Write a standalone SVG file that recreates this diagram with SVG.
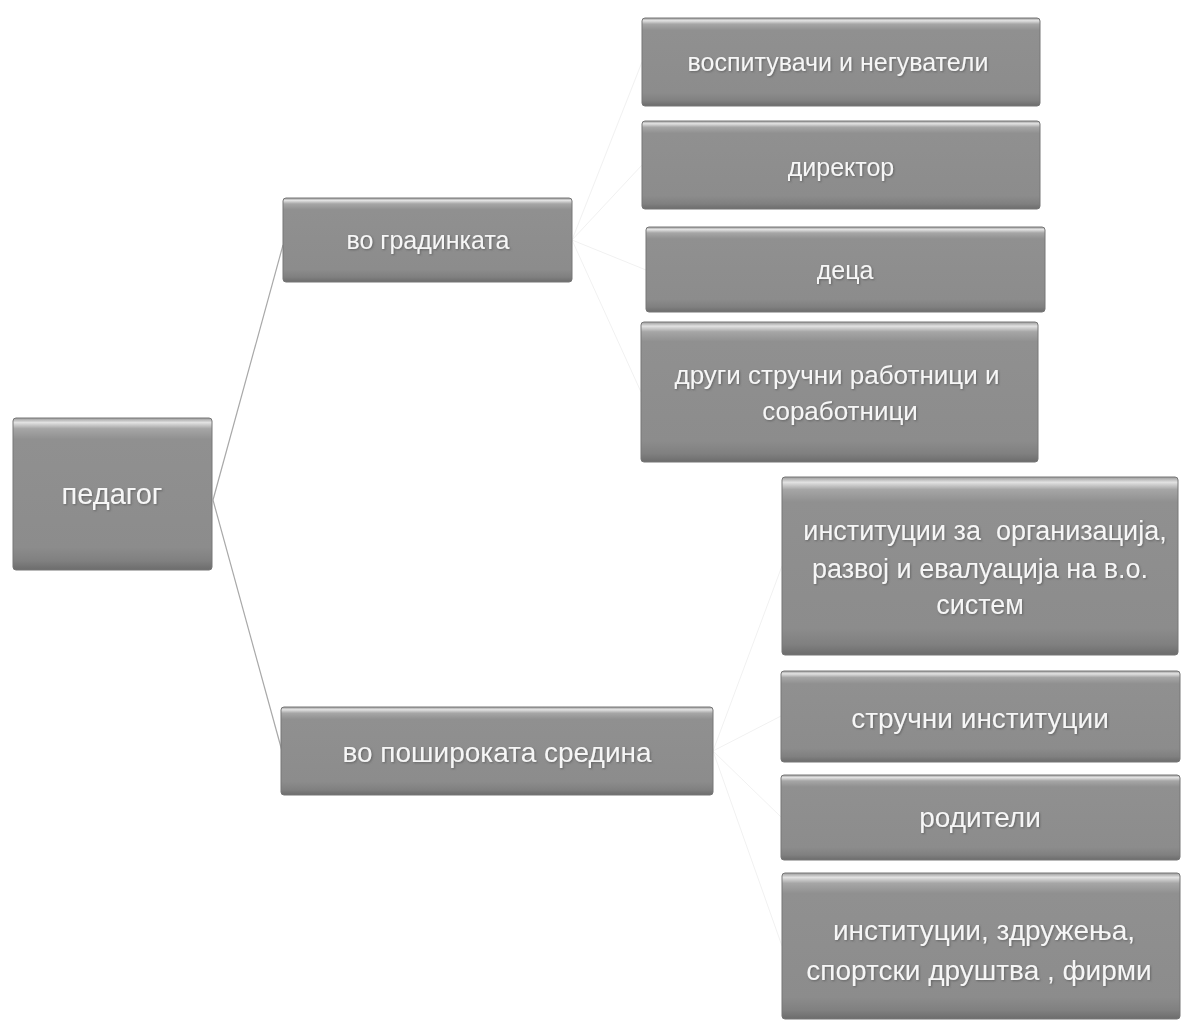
<svg xmlns="http://www.w3.org/2000/svg" width="1183" height="1021" viewBox="0 0 1183 1021">
<defs>
<linearGradient id="g" x1="0" y1="0" x2="0" y2="1">
<stop offset="0" stop-color="#9a9a9a"/>
<stop offset="0.03" stop-color="#e2e2e2"/>
<stop offset="0.07" stop-color="#a6a6a6"/>
<stop offset="0.14" stop-color="#909090"/>
<stop offset="0.85" stop-color="#8c8c8c"/>
<stop offset="0.94" stop-color="#808080"/>
<stop offset="1" stop-color="#6c6c6c"/>
</linearGradient>
<filter id="sh" x="-5%" y="-20%" width="110%" height="140%">
<feGaussianBlur in="SourceAlpha" stdDeviation="0.8"/>
<feOffset dx="1" dy="1" result="b"/>
<feFlood flood-color="#505050" flood-opacity="0.7"/>
<feComposite in2="b" operator="in"/>
<feMerge><feMergeNode/><feMergeNode in="SourceGraphic"/></feMerge>
</filter>
</defs>
<style>
.box{fill:url(#g);stroke:#767676;stroke-width:1}
.t{font-family:"Liberation Sans",Arial,sans-serif;fill:#f6f6f6;text-anchor:middle;filter:url(#sh)}
.c{stroke:#a8a8a8;stroke-width:1.2;fill:none}
.cf{stroke:#f1f1f1;stroke-width:1;fill:none}
</style>
<rect width="1183" height="1021" fill="#ffffff"/>
<g id="connectors">
<line class="c" x1="213" y1="500" x2="283" y2="245"/>
<line class="c" x1="213" y1="500" x2="282" y2="751"/>
<path class="cf" d="M572 240 L642 62 M572 240 L642 165 M572 240 L646 270 M572 240 L641 392"/>
<path class="cf" d="M713 751 L782 566 M713 751 L781 716 M713 751 L781 817 M713 751 L782 946"/>
</g>
<g id="n-pedagog">
<rect class="box" x="13" y="418" width="199" height="152" rx="3"/>
<text class="t" x="112" y="504" font-size="29">педагог</text>
</g>
<g id="n-gradinka">
<rect class="box" x="283" y="198" width="289" height="84" rx="3"/>
<text class="t" x="428" y="249" font-size="25">во градинката</text>
</g>
<g id="n-vospituvaci">
<rect class="box" x="642" y="18" width="398" height="88" rx="3"/>
<text class="t" x="838" y="71" font-size="25">воспитувачи и негуватели</text>
</g>
<g id="n-direktor">
<rect class="box" x="642" y="121" width="398" height="88" rx="3"/>
<text class="t" x="841" y="176" font-size="25">директор</text>
</g>
<g id="n-deca">
<rect class="box" x="646" y="227" width="399" height="85" rx="3"/>
<text class="t" x="845" y="279" font-size="25">деца</text>
</g>
<g id="n-drugi">
<rect class="box" x="641" y="322" width="397" height="140" rx="3"/>
<text class="t" x="837" y="384" font-size="26">други стручни работници и</text>
<text class="t" x="840" y="420" font-size="26">соработници</text>
</g>
<g id="n-posiroka">
<rect class="box" x="281" y="707" width="432" height="88" rx="3"/>
<text class="t" x="497" y="762" font-size="28">во пошироката средина</text>
</g>
<g id="n-institucii-org">
<rect class="box" x="782" y="477" width="396" height="178" rx="3"/>
<text class="t" x="985" y="540" font-size="27" xml:space="preserve">институции за  организација,</text>
<text class="t" x="980" y="578" font-size="27">развој и евалуација на в.о.</text>
<text class="t" x="980" y="614" font-size="27">систем</text>
</g>
<g id="n-strucni">
<rect class="box" x="781" y="671" width="399" height="91" rx="3"/>
<text class="t" x="980" y="728" font-size="28">стручни институции</text>
</g>
<g id="n-roditeli">
<rect class="box" x="781" y="775" width="399" height="85" rx="3"/>
<text class="t" x="980" y="827" font-size="28">родители</text>
</g>
<g id="n-zdruzenija">
<rect class="box" x="782" y="873" width="398" height="146" rx="3"/>
<text class="t" x="984" y="940" font-size="28">институции, здружења,</text>
<text class="t" x="979" y="980" font-size="28">спортски друштва , фирми</text>
</g>
</svg>
